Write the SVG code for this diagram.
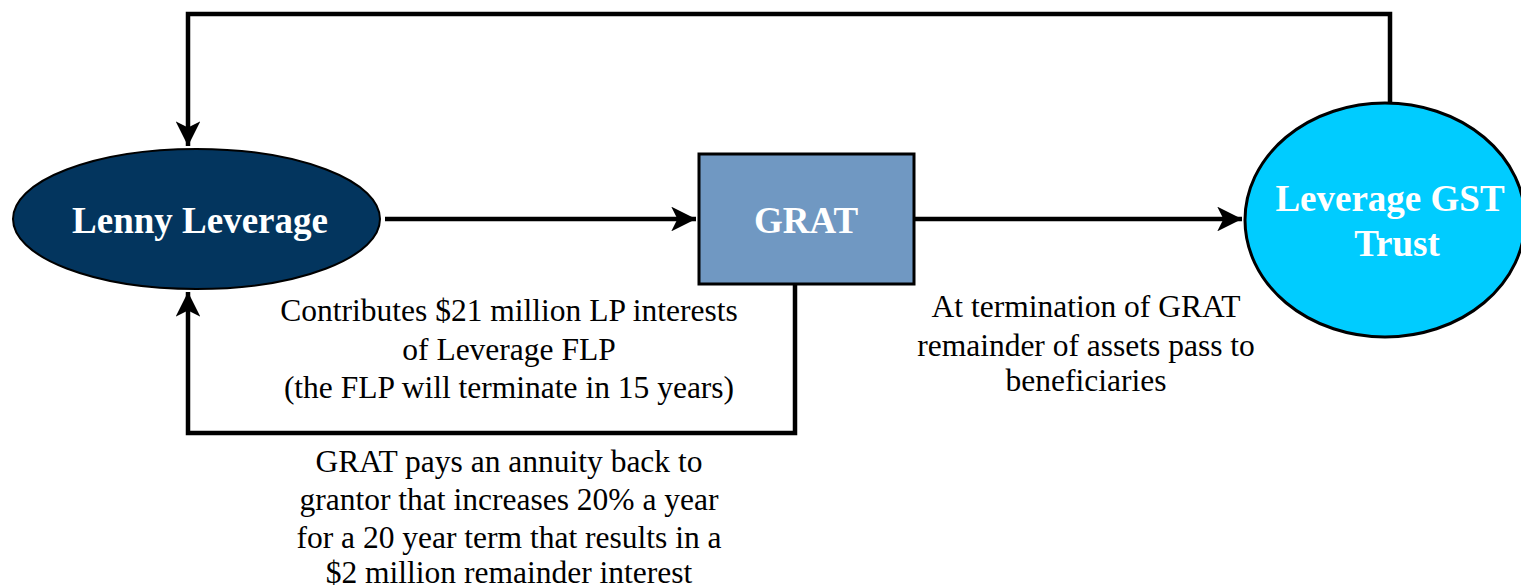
<svg xmlns="http://www.w3.org/2000/svg" width="1521" height="588" viewBox="0 0 1521 588">
<style>
.conn{fill:none;stroke:#000;stroke-width:4.5;stroke-linejoin:miter}
.lbl{font-family:"Liberation Serif","Times New Roman",serif;font-size:31.5px;fill:#000;text-anchor:middle}
.ntxt{font-family:"Liberation Serif","Times New Roman",serif;font-weight:bold;fill:#fff;text-anchor:middle;font-size:37px}
</style>
<defs>
<marker id="ah" viewBox="0 0 10 10" refX="10" refY="5" markerWidth="5.5" markerHeight="5.5" orient="auto" markerUnits="strokeWidth">
<path d="M0,0 L10,5 L0,10 L2.5,5 Z" fill="#000"/>
</marker>
</defs>
<g id="connectors">
<path class="conn" d="M1390,103 L1390,14 L188,14 L188,146" marker-end="url(#ah)"/>
<path class="conn" d="M385,219 L696,219" marker-end="url(#ah)"/>
<path class="conn" d="M914,219 L1242,219" marker-end="url(#ah)"/>
<path class="conn" d="M795,284 L795,433 L188,433 L188,292" marker-end="url(#ah)"/>
</g>
<g id="lenny">
<ellipse cx="196.5" cy="219" rx="183.5" ry="70" fill="#03355E" stroke="#000" stroke-width="2"/>
<text class="ntxt" x="200" y="233">Lenny Leverage</text>
</g>
<g id="grat">
<rect x="699" y="154" width="215" height="130" fill="#7098C2" stroke="#000" stroke-width="3"/>
<text class="ntxt" x="806" y="233">GRAT</text>
</g>
<g id="gst">
<ellipse cx="1385" cy="220" rx="140" ry="117" fill="#00CCFF" stroke="#000" stroke-width="3"/>
<text class="ntxt" x="1390" y="211">Leverage GST</text>
<text class="ntxt" x="1397" y="256">Trust</text>
</g>
<g id="labels">
<text class="lbl" x="509" y="321">Contributes $21 million LP interests</text>
<text class="lbl" x="509" y="360">of Leverage FLP</text>
<text class="lbl" x="509" y="398">(the FLP will terminate in 15 years)</text>
<text class="lbl" x="1086" y="317">At termination of GRAT</text>
<text class="lbl" x="1086" y="356">remainder of assets pass to</text>
<text class="lbl" x="1086" y="391">beneficiaries</text>
<text class="lbl" x="509" y="472">GRAT pays an annuity back to</text>
<text class="lbl" x="509" y="510">grantor that increases 20% a year</text>
<text class="lbl" x="509" y="548">for a 20 year term that results in a</text>
<text class="lbl" x="509" y="583">$2 million remainder interest</text>
</g>
</svg>
